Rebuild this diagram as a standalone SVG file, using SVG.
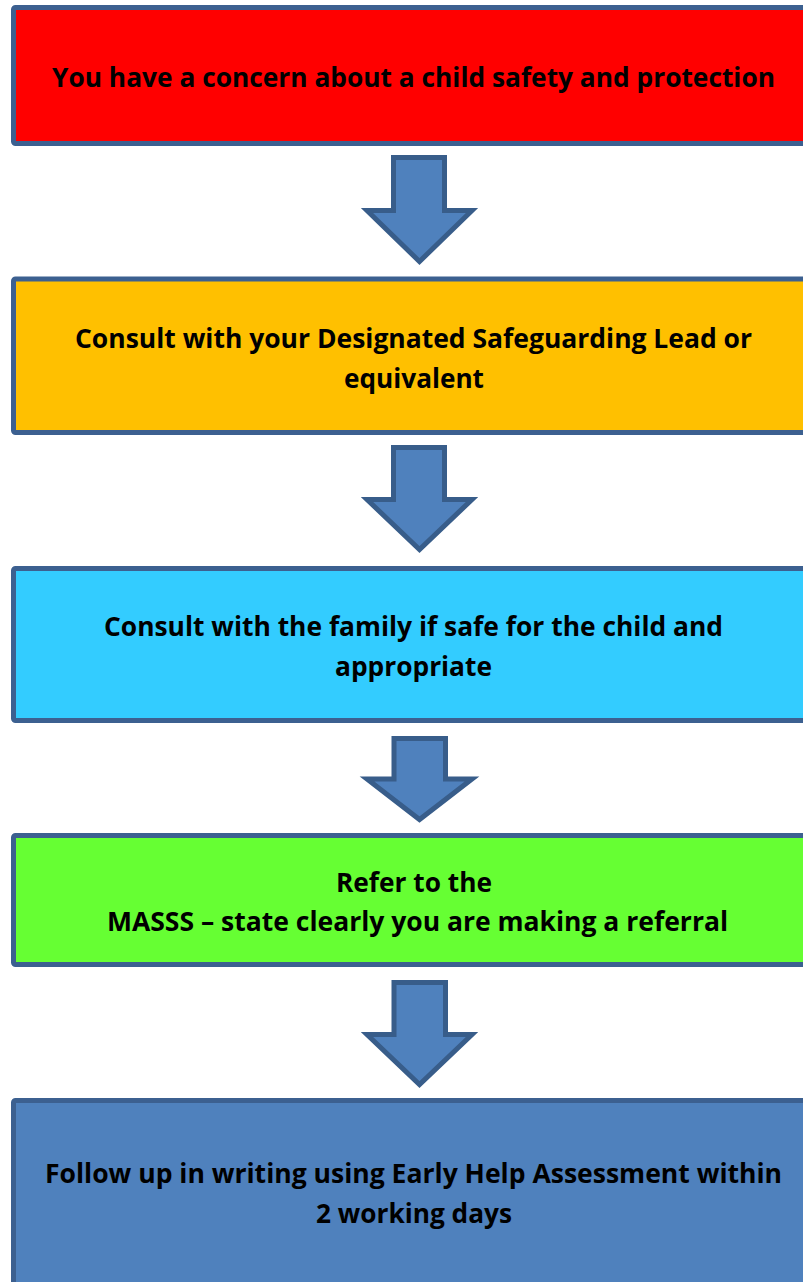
<svg xmlns="http://www.w3.org/2000/svg" width="803" height="1282" viewBox="0 0 803 1282">
<style>
.box{stroke:#3C6090;stroke-width:5;}
.arr{fill:#4F81BD;stroke:#385D8A;stroke-width:5;stroke-linejoin:miter;}
.t{font-family:"Open Sans",Lato,"Liberation Sans",sans-serif;font-weight:bold;font-size:26px;fill:#000;text-anchor:middle;}
</style>
<rect width="803" height="1282" fill="#fff"/>
<g id="node1">
<rect class="box" x="13.5" y="7.5" width="800" height="136" rx="2" fill="#FF0000"/>
<text class="t" x="413.5" y="87" textLength="723" lengthAdjust="spacingAndGlyphs">You have a concern about a child safety and protection</text>
</g>
<g id="node2">
<rect class="box" x="13.5" y="279" width="800" height="153.5" rx="2" fill="#FFC000"/>
<text class="t" x="413.5" y="348" textLength="677" lengthAdjust="spacingAndGlyphs">Consult with your Designated Safeguarding Lead or</text>
<text class="t" x="414" y="388" textLength="140" lengthAdjust="spacingAndGlyphs">equivalent</text>
</g>
<g id="node3">
<rect class="box" x="13.5" y="568.5" width="800" height="152" rx="2" fill="#33CCFF"/>
<text class="t" x="413.5" y="636" textLength="619" lengthAdjust="spacingAndGlyphs">Consult with the family if safe for the child and</text>
<text class="t" x="413.5" y="676" textLength="157" lengthAdjust="spacingAndGlyphs">appropriate</text>
</g>
<g id="node4">
<rect class="box" x="13.5" y="835.5" width="800" height="129" rx="2" fill="#66FF33"/>
<text class="t" x="414" y="892" textLength="156" lengthAdjust="spacingAndGlyphs">Refer to the</text>
<text class="t" x="417.5" y="931" textLength="621" lengthAdjust="spacingAndGlyphs">MASSS – state clearly you are making a referral</text>
</g>
<g id="node5">
<rect class="box" x="13.5" y="1100.5" width="800" height="200" rx="2" fill="#4F81BD"/>
<text class="t" x="413.5" y="1183" textLength="737" lengthAdjust="spacingAndGlyphs">Follow up in writing using Early Help Assessment within</text>
<text class="t" x="414" y="1223" textLength="196" lengthAdjust="spacingAndGlyphs">2 working days</text>
</g>
<g id="connectors">
<polygon class="arr" points="393.5,157.5 444.5,157.5 444.5,210.5 472,210.5 419.5,261.5 367,210.5 393.5,210.5"/>
<polygon class="arr" points="393.5,447.5 444.5,447.5 444.5,499.5 472,499.5 419.5,549.5 367,499.5 393.5,499.5"/>
<polygon class="arr" points="394,738.5 445.5,738.5 445.5,779 472,779 419.5,819.5 367,779 394,779"/>
<polygon class="arr" points="394,982.5 445.5,982.5 445.5,1034.5 472,1034.5 419.5,1084.5 367,1034.5 394,1034.5"/>
</g>
</svg>
